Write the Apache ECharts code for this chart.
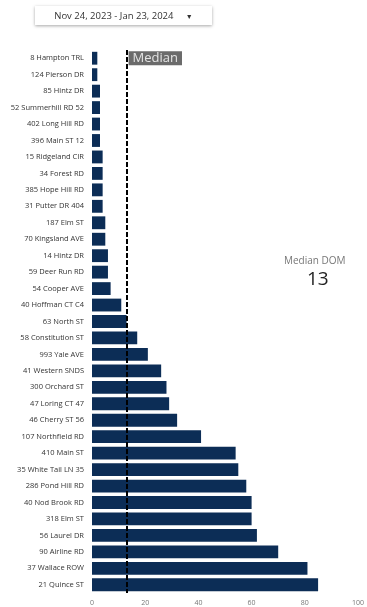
<!DOCTYPE html>
<html><head><meta charset="utf-8">
<script src="https://cdn.jsdelivr.net/npm/echarts@6/dist/echarts.min.js"></script>
<style>html,body{margin:0;padding:0;background:#fff;}#c{width:367px;height:607px;}
#dr{position:absolute;left:35px;top:6px;width:177px;height:19px;box-shadow:0 1px 3px rgba(0,0,0,0.35);background:#fff;font-family:'Open Sans',sans-serif;font-size:9.5px;color:#333;line-height:19px;text-align:center;}
</style></head><body>
<div id="c"></div>
<div id="dr">Nov 24, 2023 - Jan 23, 2024&nbsp;&nbsp;&nbsp;&nbsp;&nbsp;<span style="font-size:7px">&#9660;</span></div>
<script>
const categories = ['8 Hampton TRL','124 Pierson DR','85 Hintz DR','52 Summerhill RD 52','402 Long Hill RD','396 Main ST 12','15 Ridgeland CIR','34 Forest RD','385 Hope Hill RD','31 Putter DR 404','187 Elm ST','70 Kingsland AVE','14 Hintz DR','59 Deer Run RD','54 Cooper AVE','40 Hoffman CT C4','63 North ST','58 Constitution ST','993 Yale AVE','41 Western SNDS','300 Orchard ST','47 Loring CT 47','46 Cherry ST 56','107 Northfield RD','410 Main ST','35 White Tail LN 35','286 Pond Hill RD','40 Nod Brook RD','318 Elm ST','56 Laurel DR','90 Airline RD','37 Wallace ROW','21 Quince ST'];
const domValues = [2,2,3,3,3,3,4,4,4,4,5,5,6,6,7,11,13,17,21,26,28,29,32,41,54,55,58,60,60,62,70,81,85];
const medianValue = 13;
const xTicks = [0,20,40,60,80,100];
</script>
<script>
const chart = echarts.init(document.getElementById('c'), null, {renderer:'canvas'});
const font = "'Open Sans', sans-serif";
chart.setOption({
  animation:false,
  grid:{left:92,right:4,top:50,bottom:14,containLabel:false},
  xAxis:{type:'value',min:xTicks[0],max:xTicks[xTicks.length-1],interval:20,
    axisLine:{show:false},axisTick:{show:false},splitLine:{show:false},
    axisLabel:{color:'#777',fontSize:7,fontFamily:font,margin:6}},
  yAxis:{type:'category',data:categories,inverse:true,
    axisLine:{show:false},axisTick:{show:false},
    axisLabel:{color:'#333',fontSize:7.5,fontFamily:font,margin:8}},
  series:[{type:'bar',data:domValues,barCategoryGap:'22%',
    itemStyle:{color:'#0c2d56'},
    markLine:{silent:true,symbol:['none','none'],label:{show:false},
      lineStyle:{color:'#000',type:[5,2],width:2},
      data:[{xAxis:medianValue}]},
    markPoint:{symbol:'rect',symbolSize:0,
      data:[{coord:[medianValue,categories[0]]}],
      label:{show:true,position:'right',distance:2,formatter:'Median',
        color:'#e4e4e4',backgroundColor:'#6b6b6b',padding:[1,4,0,4],fontSize:13,fontFamily:font}}
  }],
  graphic:[
    {type:'text',left:284,top:256,style:{text:'Median DOM',fill:'#777',fontSize:10,fontFamily:font}},
    {type:'text',left:307,top:270,style:{text:String(medianValue),fill:'#222',fontSize:19,fontFamily:font}}
  ]
});
</script>
</body></html>
